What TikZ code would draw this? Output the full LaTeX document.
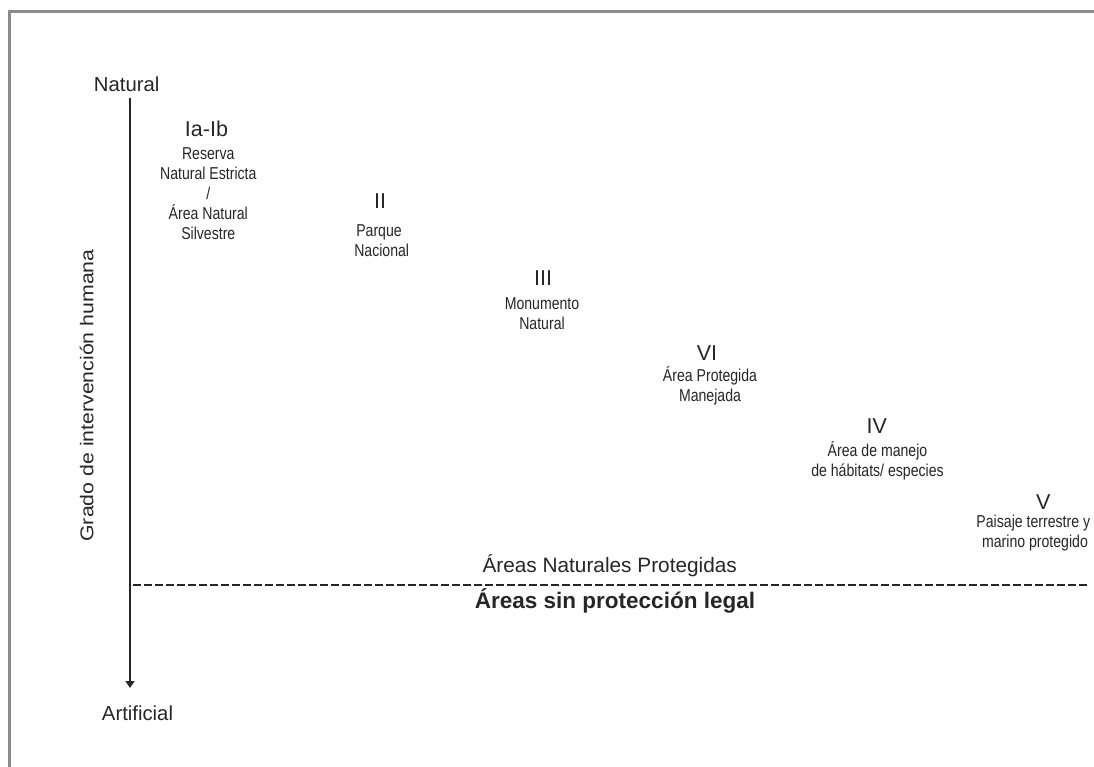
\documentclass[tikz,border=0pt]{standalone}
\usepackage{fontspec}
\setmainfont{Liberation Sans}
\newfontfamily\narrowfont[FakeStretch=0.82]{Liberation Sans}
\newfontfamily\widefont[FakeStretch=1.15]{Liberation Sans}
\usetikzlibrary{arrows.meta}
\definecolor{txt}{HTML}{262626}
\definecolor{frame}{HTML}{8C8C8C}
\tikzset{
  num/.style={font=\fontsize{21.5}{22}\selectfont, text=txt, inner sep=0pt, anchor=base},
  sub/.style={font=\narrowfont\fontsize{17.2}{20}\selectfont, text=txt, inner sep=0pt, anchor=base},
  axislabel/.style={font=\fontsize{20.3}{22}\selectfont, text=txt, inner sep=0pt, anchor=base},
  zone/.style={font=\fontsize{20.8}{22}\selectfont, text=txt, inner sep=0pt, anchor=base},
}
\begin{document}
\begin{tikzpicture}[x=1pt,y=-1pt]
\useasboundingbox (0,0) rectangle (1094,767);
% frame
\draw[frame, line width=2.8pt] (9.7,767) -- (9.7,11.5) -- (1094,11.5);
% axis
\node[axislabel] (nat) at (126.7,91.7) {Natural};
\node[axislabel] (art) at (137.5,720) {Artificial};
\coordinate (top) at (130,98);
\coordinate (bot) at (130,688);
\draw[txt, line width=1.6pt, -{Triangle[length=7pt,width=9pt]}] (top) -- (bot);
\node[font=\widefont\fontsize{18.5}{20}\selectfont, text=txt, rotate=90, inner sep=0pt] (grado) at (86.7,395.5) {Grado de intervención humana};
% dashed line
\coordinate (dl) at (133,585);
\coordinate (dr) at (1088,585);
\draw[txt, line width=1.7pt, dash pattern=on 7.5pt off 3.5pt] (dl) -- (dr);
\node[zone] (anp) at (609.7,572.7) {Áreas Naturales Protegidas};
\node[zone, font=\bfseries\fontsize{22.5}{24}\selectfont] (asp) at (615,608.3) {Áreas sin protección legal};
% Ia-Ib
\node[num] (c1) at (206.5,136.7) {Ia-Ib};
\node[sub] (c1a) at (208.3,160) {Reserva};
\node[sub] (c1b) at (208.3,180) {Natural Estricta};
\node[sub] (c1c) at (208.3,200) {/};
\node[sub] (c1d) at (208.3,220) {Área Natural};
\node[sub] (c1e) at (208.3,240) {Silvestre};
% II
\node[num] (c2) at (380,208.3) {II};
\node[sub] (c2a) at (379,236.5) {Parque};
\node[sub] (c2b) at (381.7,257) {Nacional};
% III
\node[num] (c3) at (543,285) {III};
\node[sub] (c3a) at (542,309.3) {Monumento};
\node[sub] (c3b) at (542,329) {Natural};
% VI
\node[num] (c6) at (707,360) {VI};
\node[sub] (c6a) at (710,381.7) {Área Protegida};
\node[sub] (c6b) at (710,401.7) {Manejada};
% IV
\node[num] (c4) at (876.7,433.3) {IV};
\node[sub] (c4a) at (877.5,456.7) {Área de manejo};
\node[sub] (c4b) at (877.5,476.5) {de hábitats/ especies};
% V
\node[num] (c5) at (1043.3,509) {V};
\node[sub] (c5a) at (1033.3,527) {Paisaje terrestre y};
\node[sub] (c5b) at (1035,547.3) {marino protegido};
\end{tikzpicture}
\end{document}
